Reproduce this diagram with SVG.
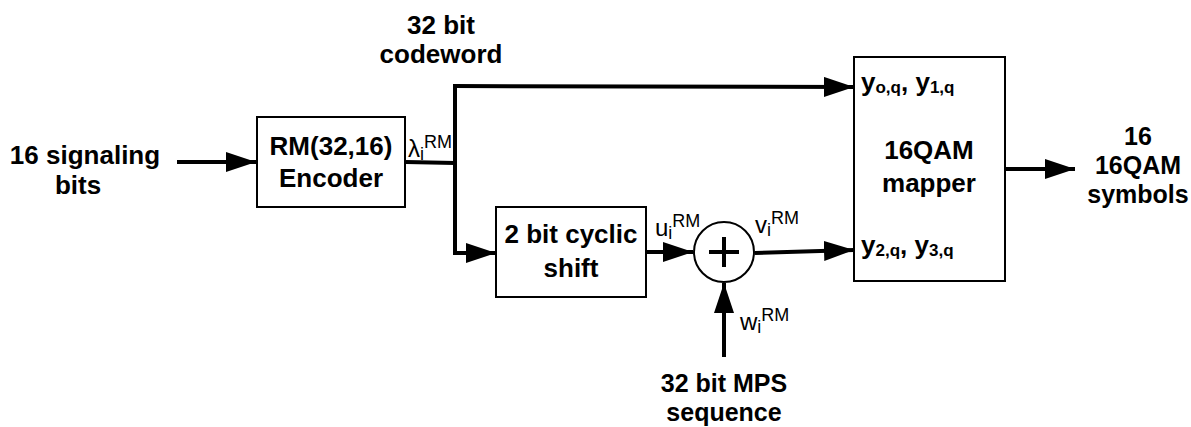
<svg xmlns="http://www.w3.org/2000/svg" width="1191" height="427" viewBox="0 0 1191 427">
<style>
.t{font-family:"Liberation Sans",Arial,sans-serif;font-weight:bold;font-size:26px;fill:#000}
.t2{font-family:"Liberation Sans",Arial,sans-serif;font-weight:bold;font-size:25px;fill:#000}
.s{font-family:"Liberation Sans",Arial,sans-serif;font-size:24px;fill:#000}
.sup{font-size:18px}
.box{fill:#fff;stroke:#000;stroke-width:2}
.ln{fill:none;stroke:#000;stroke-width:4}
</style>
<defs>
<marker id="ah" markerWidth="7.5" markerHeight="5" refX="7.5" refY="2.5" orient="auto" markerUnits="strokeWidth">
<path d="M0,0 L7.5,2.5 L0,5 Z" fill="#000"/>
</marker>
</defs>
<g id="connectors">
<line class="ln" x1="177" y1="162" x2="256" y2="162" marker-end="url(#ah)"/>
<line class="ln" x1="406" y1="162" x2="455" y2="163"/>
<line class="ln" x1="455" y1="84" x2="455" y2="255"/>
<line class="ln" x1="453" y1="86" x2="854" y2="87" marker-end="url(#ah)"/>
<line class="ln" x1="453" y1="253" x2="496" y2="253" marker-end="url(#ah)"/>
<line class="ln" x1="646" y1="252" x2="693" y2="252" marker-end="url(#ah)"/>
<line class="ln" x1="755" y1="253" x2="854" y2="250" marker-end="url(#ah)"/>
<line class="ln" x1="724" y1="357" x2="724" y2="283" marker-end="url(#ah)"/>
<line class="ln" x1="1005" y1="169" x2="1075" y2="169" marker-end="url(#ah)"/>
</g>
<g id="input-label">
<text class="t" x="85" y="164" text-anchor="middle">16 signaling</text>
<text class="t" x="78" y="194" text-anchor="middle">bits</text>
</g>
<g id="rm-encoder">
<rect class="box" x="257" y="117" width="148" height="90"/>
<text class="t" x="331" y="155" text-anchor="middle">RM(32,16)</text>
<text class="t" x="331" y="187" text-anchor="middle">Encoder</text>
</g>
<g id="lambda-label">
<text class="s" x="408" y="157">λ<tspan class="sup" dy="3">i</tspan><tspan class="sup" dy="-12">RM</tspan></text>
</g>
<g id="codeword-label">
<text class="t" x="441" y="34" text-anchor="middle">32 bit</text>
<text class="t" x="441" y="63" text-anchor="middle">codeword</text>
</g>
<g id="cyclic-shift">
<rect class="box" x="496" y="207" width="150" height="90"/>
<text class="t" x="571" y="243" text-anchor="middle">2 bit cyclic</text>
<text class="t" x="571" y="277" text-anchor="middle">shift</text>
</g>
<g id="u-label">
<text class="s" x="655" y="236">u<tspan class="sup" dy="3">i</tspan><tspan class="sup" dy="-12">RM</tspan></text>
</g>
<g id="adder">
<circle cx="724" cy="252" r="30" fill="#fff" stroke="#000" stroke-width="2"/>
<line x1="709" y1="252" x2="739" y2="252" stroke="#000" stroke-width="4"/>
<line x1="724" y1="237" x2="724" y2="267" stroke="#000" stroke-width="4"/>
</g>
<g id="v-label">
<text class="s" x="755" y="233">v<tspan class="sup" dy="3">i</tspan><tspan class="sup" dy="-12">RM</tspan></text>
</g>
<g id="w-label">
<text class="s" x="740" y="330">w<tspan class="sup" dy="3">i</tspan><tspan class="sup" dy="-12">RM</tspan></text>
</g>
<g id="mps-label">
<text class="t2" x="724" y="392" text-anchor="middle">32 bit MPS</text>
<text class="t2" x="724" y="421" text-anchor="middle">sequence</text>
</g>
<g id="mapper">
<rect class="box" x="854" y="57" width="151" height="224"/>
<text class="t" x="929" y="159" text-anchor="middle">16QAM</text>
<text class="t" x="929" y="192" text-anchor="middle">mapper</text>
<text class="t" x="861" y="91" font-size="25">y<tspan font-size="17" dy="2">o,q</tspan><tspan dy="-2">, y</tspan><tspan font-size="17" dy="2">1,q</tspan></text>
<text class="t" x="861" y="254" font-size="25">y<tspan font-size="17" dy="2">2,q</tspan><tspan dy="-2">, y</tspan><tspan font-size="17" dy="2">3,q</tspan></text>
</g>
<g id="output-label">
<text class="t2" x="1138" y="145" text-anchor="middle">16</text>
<text class="t2" x="1138" y="174" text-anchor="middle">16QAM</text>
<text class="t2" x="1138" y="203" text-anchor="middle">symbols</text>
</g>
</svg>
